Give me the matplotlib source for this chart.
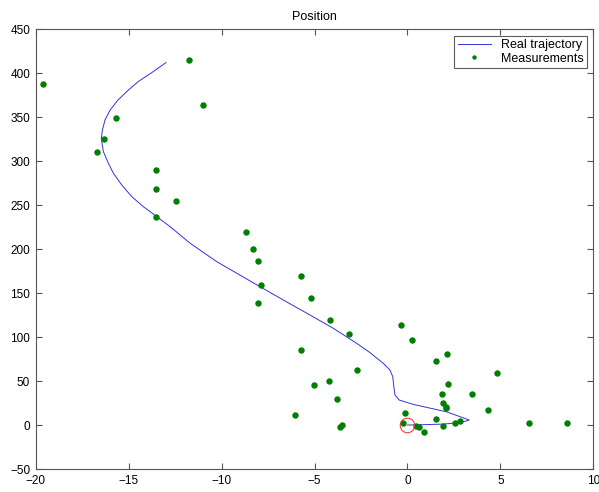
import numpy as np
import matplotlib.pyplot as plt

plt.rcParams['font.family'] = ['Liberation Sans', 'DejaVu Sans']

# real trajectory (x, y), starting at the origin
traj_x = [0.0, 1.0, 1.93, 2.83, 3.33, 2.11, 0.32, -0.44, -0.67, -0.72, -0.79, -0.94,
          -1.3, -2.01, -2.73, -3.99, -5.24, -6.68, -7.93, -9.18, -10.26, -11.69,
          -12.77, -13.49, -14.21, -14.83, -15.37, -15.82, -16.09, -16.36, -16.47,
          -16.41, -16.27, -16.0, -15.6, -15.01, -14.48, -13.67, -12.99]
traj_y = [0.0, 0.5, 1.1, 2.7, 5.7, 15.0, 23.5, 28.4, 34.1, 41.8, 55.0, 62.6,
          70.2, 82.3, 92.9, 110.0, 125.1, 142.2, 157.3, 172.6, 185.8, 206.7,
          225.6, 237.0, 248.4, 259.7, 273.0, 286.3, 297.7, 311.0, 326.0,
          335.6, 347.0, 358.0, 369.0, 381.0, 390.6, 402.0, 412.2]

# measurements
meas_x = [-19.62, -11.74, -11.01, -15.67, -16.33, -16.69, -13.51, -13.53, -12.47, -13.51,
          -8.7, -8.32, -8.03, -7.87, -8.03, -5.73, -5.21, -4.19, -3.16, -5.73,
          -2.73, -4.22, -5.03, -3.77, -6.03, -3.63, -3.53, -0.34, 0.23, 2.12,
          1.56, 4.84, 2.17, 1.87, 3.45, 1.90, 2.09, 2.06, -0.13, 4.35,
          1.54, 2.83, 2.54, -0.22, 0.46, 0.64, 1.93, 0.91, 6.56, 8.59]
meas_y = [388, 415, 364, 349, 325, 310, 290, 268, 255, 237,
          220, 200, 187, 159, 139, 170, 145, 119, 103, 85,
          63, 50, 46, 30, 12, -2, 0, 114, 97, 81,
          73, 59, 47, 35, 35, 25, 21, 19, 14, 17,
          7, 5, 2, 2, -1, -2, -1, -8, 2, 2]

start_x = [0.0]
start_y = [0.0]

fig = plt.figure(figsize=(5.99, 4.92), dpi=100)
ax = fig.add_axes([0.0596, 0.0467, 0.9309, 0.8937])

ax.plot(traj_x, traj_y, color='#3333dd', lw=0.7, label='Real trajectory')
ax.plot(meas_x, meas_y, 'o', color='#007f00', ms=3.6, mec='#007f00', ls='none',
        label='Measurements')
ax.plot(start_x, start_y, 'o', mfc='none', mec='#e03030', ms=10.5, mew=0.7)

ax.set_xlim(-20, 10)
ax.set_ylim(-50, 450)
ax.set_xticks(np.arange(-20, 11, 5))
ax.set_yticks(np.arange(-50, 451, 50))
ax.tick_params(direction='in', length=4, top=True, right=True, labelsize=8.5,
               color='#555555', pad=4)
for s in ax.spines.values():
    s.set_color('#555555')
    s.set_linewidth(0.8)

ax.set_title('Position', fontsize=9, pad=7)
leg = ax.legend(loc='upper right', fontsize=9, frameon=True, fancybox=False,
                borderpad=0.3, handlelength=2.6, labelspacing=0.1, borderaxespad=0.5,
                markerscale=0.6)
leg.get_frame().set_edgecolor('#333333')
leg.get_frame().set_linewidth(0.8)

fig.savefig('out.png', dpi=100)
